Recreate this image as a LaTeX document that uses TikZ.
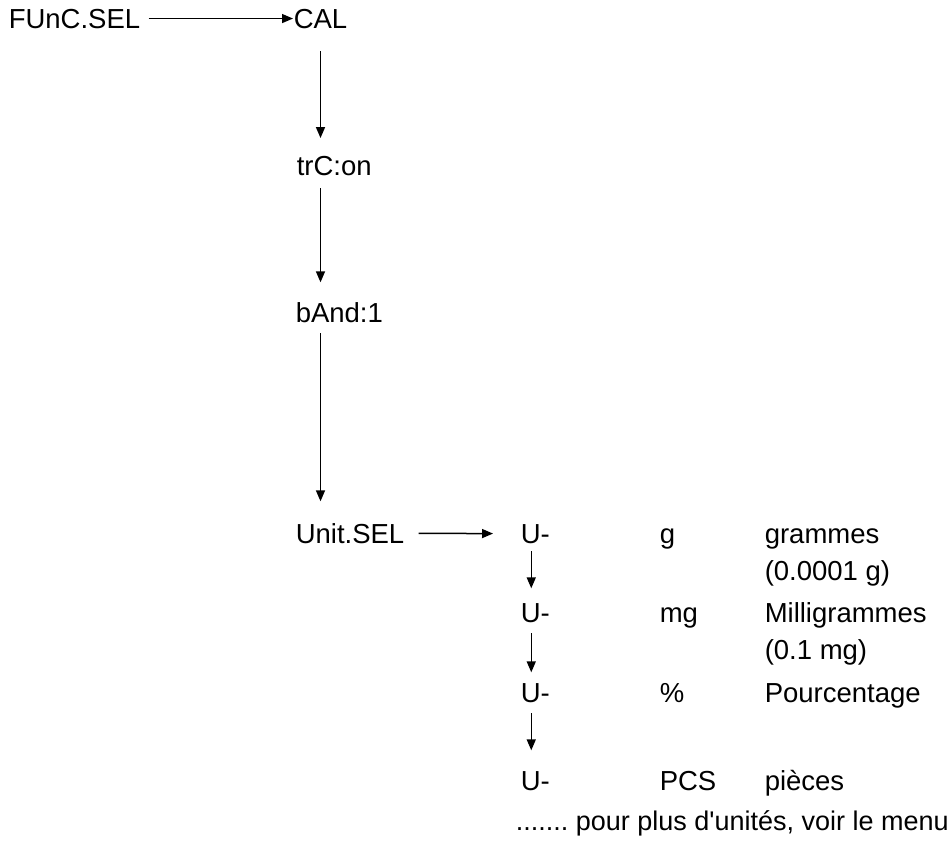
\documentclass[tikz,border=0pt]{standalone}
\usepackage{fontspec}
\setmainfont{Liberation Sans}
\usetikzlibrary{arrows.meta}

\begin{document}
\begin{tikzpicture}[x=0.5pt,y=-0.5pt,line width=0.75pt,
    menu node/.style={anchor=base west,inner sep=0pt,font=\fontsize{13.75}{18.5}\selectfont},
    flow/.style={-{Triangle[length=5.5pt,width=4.5pt]}}]
    \useasboundingbox (0,0) rectangle (951,857);

    \node[menu node] at (8, 28) (funcsel) {FUnC.SEL};
    \node[menu node] at (293, 28) (cal) {CAL};
    \node[menu node] at (296, 175) (trc) {trC:on};
    \node[menu node] at (295, 322) (band) {bAnd:1};
    \node[menu node] at (295, 543) (unitsel) {Unit.SEL};

    \node[menu node] at (520, 543) (u1) {U-};
    \node[menu node] at (520, 622) (u2) {U-};
    \node[menu node] at (520, 702) (u3) {U-};
    \node[menu node] at (520, 790) (u4) {U-};

    \node[menu node] at (659, 543) (g) {g};
    \node[menu node] at (659, 622) (mg) {mg};
    \node[menu node] at (659, 702) (pct) {\%};
    \node[menu node] at (659, 790) (pcs) {PCS};

    \node[menu node] at (764, 543) (grammes) {\vtop{\hbox{grammes}\hbox{(0.0001 g)}}};
    \node[menu node] at (764, 622) (milli) {\vtop{\hbox{Milligrammes}\hbox{(0.1 mg)}}};
    \node[menu node] at (764, 702) (pourc) {Pourcentage};
    \node[menu node] at (764, 790) (pieces) {pièces};

    \node[menu node, font=\fontsize{13.5}{18}\selectfont] at (515, 830) (more)
        {\frenchspacing ....... pour plus d\textquotesingle unités, voir le menu};

    \path[flow]
        (funcsel) edge[shorten <=3.8pt] (cal)
        (cal.south) edge[shorten <=11pt, shorten >=8.5pt] (cal.south |- trc.north)
        (trc.south -| cal) edge[shorten <=6pt, shorten >=9.5pt] (band.north -| cal)
        (band.south -| cal) edge[shorten <=5pt, shorten >=10.5pt] (unitsel.north -| cal)
        (unitsel) edge[shorten <=6.75pt, shorten >=13.5pt] (u1)
        ([xshift=-2pt]u1.south) edge[shorten <=3.5pt, shorten >=7pt] ([xshift=-2pt]u2.north)
        ([xshift=-2pt]u2.south) edge[shorten <=5pt, shorten >=5pt] ([xshift=-2pt]u3.north)
        ([xshift=-2pt]u3.south) edge[shorten <=5pt, shorten >=10pt] ([xshift=-2pt]u4.north)
        ;
\end{tikzpicture}
\end{document}
